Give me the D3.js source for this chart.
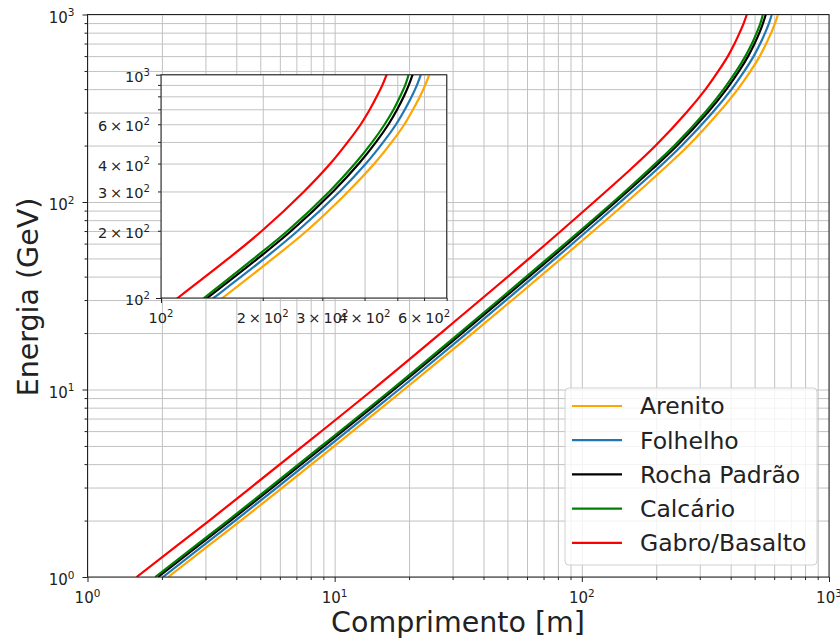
<!DOCTYPE html>
<html><head><meta charset="utf-8">
<script src="https://cdn.jsdelivr.net/npm/d3@7"></script>
<style>
body{margin:0;background:#fff}
svg{display:block}
text{font-family:"DejaVu Sans",sans-serif;fill:#222}
</style>
</head><body>
<svg id="c" width="840" height="642"></svg>
<script>
// ---- data ----
const energies       = [1, 2, 3, 5, 10, 20, 50, 100, 150, 200, 300, 400, 500, 600, 700, 800, 900, 1000];
const lenArenito     = [2.12, 4.17, 6.15, 9.99, 19.1, 36.2, 82.7, 152, 214, 270, 358, 428, 482, 525, 557, 584, 605, 622];
const lenFolhelho    = [2.02, 3.96, 5.84, 9.49, 18.2, 34.3, 78.1, 143, 202, 254, 338, 404, 455, 496, 527, 552, 572, 587];
const lenRochaPadrao = [1.93, 3.79, 5.59, 9.08, 17.4, 32.8, 74.7, 137, 193, 243, 323, 385, 433, 471, 500, 523, 541, 555];
const lenCalcario    = [1.88, 3.70, 5.45, 8.85, 17.0, 32.0, 72.8, 134, 188, 237, 315, 375, 422, 459, 488, 510, 528, 540];
const lenGabro       = [1.58, 3.11, 4.58, 7.45, 14.3, 26.9, 61.3, 112, 158, 199, 265, 317, 357, 390, 415, 435, 452, 465];
const seriesNames    = ["Arenito", "Folhelho", "Rocha Padrão", "Calcário", "Gabro/Basalto"];
const seriesColors   = ["#ffa500", "#1f77b4", "#000000", "#008000", "#ff0000"];
const mainXDomain = [1, 1000], mainYDomain = [1, 1000];
const insetXDomain = [100, 700], insetYDomain = [100, 1000];
const mainMajor = [1, 10, 100, 1000];
const insetXLabels = [[100, null, 2], [200, "2", 2], [300, "3", 2], [400, "4", 2], [600, "6", 2]];
const insetYLabels = [[100, null, 2], [200, "2", 2], [300, "3", 2], [400, "4", 2], [600, "6", 2], [1000, null, 3]];
const xTitle = "Comprimento [m]", yTitle = "Energia (GeV)";

const lengths = [lenArenito, lenFolhelho, lenRochaPadrao, lenCalcario, lenGabro];
const series = seriesNames.map((n, i) => ({name: n, color: seriesColors[i],
  pts: energies.map((e, j) => ({L: lengths[i][j], E: e}))}));

const svg = d3.select("#c");
const GRID = "#c2c2c2";

function logVals(lo, hi) {
  const out = [];
  for (let d = Math.pow(10, Math.floor(Math.log10(lo) + 1e-9)); d <= hi * 1.0001; d *= 10)
    for (let k = 1; k < 10; k++) { const v = d * k; if (v >= lo * 0.9999 && v <= hi * 1.0001) out.push(v); }
  return out;
}
function supLabel(t, mant, exp, fs) {
  t.text(null);
  t.append("tspan").text(mant ? mant + "\u2009×\u200910" : "10");
  t.append("tspan").attr("dy", -0.42 * fs).attr("font-size", fs * 0.7).text(exp);
}

function drawPanel(g, box, xd, yd, opts) {
  const x = d3.scaleLog().domain(xd).range([box.l, box.r]);
  const y = d3.scaleLog().domain(yd).range([box.b, box.t]);
  const W = box.r - box.l, H = box.b - box.t;
  if (opts.bg) g.append("rect").attr("x", box.l).attr("y", box.t).attr("width", W).attr("height", H).attr("fill", "#fff");
  // grid
  const gx = g.append("g").attr("transform", `translate(0,${box.b})`)
    .call(d3.axisBottom(x).tickValues(logVals(xd[0], xd[1])).tickSize(-H).tickFormat(""));
  const gy = g.append("g").attr("transform", `translate(${box.l},0)`)
    .call(d3.axisLeft(y).tickValues(logVals(yd[0], yd[1])).tickSize(-W).tickFormat(""));
  [gx, gy].forEach(a => { a.select(".domain").remove(); a.selectAll("line").attr("stroke", GRID).attr("stroke-width", 1); });
  // curves
  const cid = "clip" + opts.id;
  g.append("clipPath").attr("id", cid).append("rect").attr("x", box.l).attr("y", box.t).attr("width", W).attr("height", H);
  const line = d3.line().x(d => x(d.L)).y(d => y(d.E)).curve(d3.curveCatmullRom.alpha(0.5));
  g.append("g").attr("clip-path", `url(#${cid})`).selectAll("path").data(series).join("path")
    .attr("d", d => line(d.pts)).attr("fill", "none").attr("stroke", d => d.color).attr("stroke-width", 2.2);
  // frame
  g.append("rect").attr("x", box.l).attr("y", box.t).attr("width", W).attr("height", H)
    .attr("fill", "none").attr("stroke", "#222").attr("stroke-width", 1);
  // ticks
  const minX = logVals(xd[0], xd[1]), minY = logVals(yd[0], yd[1]);
  const ax = g.append("g").attr("transform", `translate(0,${box.b})`)
    .call(d3.axisBottom(x).tickValues(minX).tickSizeInner(0).tickSizeOuter(0).tickFormat(""));
  ax.select(".domain").remove();
  ax.selectAll(".tick line").attr("y2", v => (opts.isMajor(v) ? 5 : 3)).attr("stroke", "#222");
  const ay = g.append("g").attr("transform", `translate(${box.l},0)`)
    .call(d3.axisLeft(y).tickValues(minY).tickSizeInner(0).tickSizeOuter(0).tickFormat(""));
  ay.select(".domain").remove();
  ay.selectAll(".tick line").attr("x2", v => (opts.isMajor(v) ? -5 : -3)).attr("stroke", "#222");
  // labels
  const fs = opts.fs;
  opts.xLabels.forEach(([v, m, e]) => {
    const t = g.append("text").attr("x", x(v)).attr("y", box.b + opts.xLabDy).attr("text-anchor", "middle").attr("font-size", fs);
    supLabel(t, m, e, fs);
  });
  opts.yLabels.forEach(([v, m, e]) => {
    const t = g.append("text").attr("x", box.l - opts.yLabDx).attr("y", y(v) + opts.yLabBase).attr("text-anchor", "end").attr("font-size", fs);
    supLabel(t, m, e, fs);
  });
}

const isPow10 = v => Math.abs(Math.log10(v) - Math.round(Math.log10(v))) < 1e-6;

drawPanel(svg.append("g"), {l: 87.5, r: 829, t: 14.5, b: 577}, mainXDomain, mainYDomain, {
  id: "main", fs: 15, isMajor: isPow10,
  xLabels: mainMajor.map(v => [v, null, Math.round(Math.log10(v))]),
  yLabels: mainMajor.map(v => [v, null, Math.round(Math.log10(v))]),
  xLabDy: 26, yLabDx: 13, yLabBase: 8
});

// axis titles
svg.append("text").attr("x", 458).attr("y", 632).attr("text-anchor", "middle").attr("font-size", 28.5).text(xTitle);
svg.append("text").attr("transform", "translate(38,297) rotate(-90)").attr("text-anchor", "middle").attr("font-size", 28.5).text(yTitle);

// legend
const lg = svg.append("g");
lg.append("rect").attr("x", 565).attr("y", 388).attr("width", 252).attr("height", 177).attr("rx", 4)
  .attr("fill", "#fff").attr("fill-opacity", 0.8).attr("stroke", "#d0d0d0");
series.forEach((s, i) => {
  const cy = 406 + i * 34.2;
  lg.append("line").attr("x1", 572).attr("x2", 622).attr("y1", cy).attr("y2", cy).attr("stroke", s.color).attr("stroke-width", 2.2);
  lg.append("text").attr("x", 640).attr("y", cy + 8.3).attr("font-size", 23.5).text(s.name);
});

// inset
drawPanel(svg.append("g"), {l: 161, r: 446.7, t: 74.7, b: 298}, insetXDomain, insetYDomain, {
  id: "inset", fs: 14.5, bg: true, isMajor: isPow10,
  xLabels: insetXLabels, yLabels: insetYLabels,
  xLabDy: 25, yLabDx: 11, yLabBase: 7
});
</script>
</body></html>
